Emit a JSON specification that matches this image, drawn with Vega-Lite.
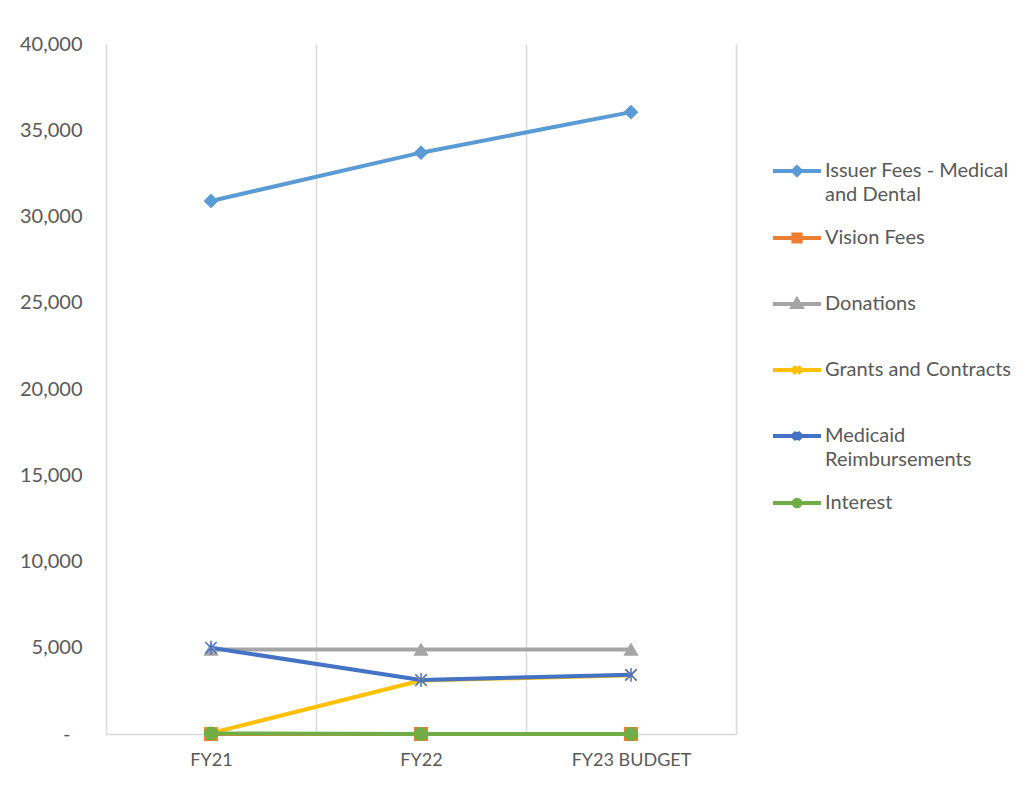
{
  "$schema": "https://vega.github.io/schema/vega-lite/v6.json",
  "width": 630,
  "height": 690,
  "autosize": {"type": "none"},
  "padding": {"left": 106, "top": 44, "right": 287, "bottom": 60},
  "background": "white",
  "config": {
    "view": {"stroke": null},
    "font": "Lato",
    "style": {"guide-label": {"lineHeight": 24}}
  },
  "data": {
    "values": [
      {"series": "Issuer Fees - Medical and Dental", "year": "FY21", "value": 30900},
      {"series": "Issuer Fees - Medical and Dental", "year": "FY22", "value": 33700},
      {"series": "Issuer Fees - Medical and Dental", "year": "FY23 BUDGET", "value": 36050},
      {"series": "Vision Fees", "year": "FY21", "value": 0},
      {"series": "Vision Fees", "year": "FY22", "value": 0},
      {"series": "Vision Fees", "year": "FY23 BUDGET", "value": 0},
      {"series": "Donations", "year": "FY21", "value": 4900},
      {"series": "Donations", "year": "FY22", "value": 4900},
      {"series": "Donations", "year": "FY23 BUDGET", "value": 4900},
      {"series": "Grants and Contracts", "year": "FY21", "value": 50},
      {"series": "Grants and Contracts", "year": "FY22", "value": 3100},
      {"series": "Grants and Contracts", "year": "FY23 BUDGET", "value": 3400},
      {"series": "Medicaid Reimbursements", "year": "FY21", "value": 5000},
      {"series": "Medicaid Reimbursements", "year": "FY22", "value": 3130},
      {"series": "Medicaid Reimbursements", "year": "FY23 BUDGET", "value": 3430},
      {"series": "Interest", "year": "FY21", "value": 30},
      {"series": "Interest", "year": "FY22", "value": 0},
      {"series": "Interest", "year": "FY23 BUDGET", "value": 0}
    ]
  },
  "encoding": {
    "x": {
      "field": "year",
      "type": "nominal",
      "bandPosition": 0.5,
      "scale": {"type": "band", "domain": ["FY21", "FY22", "FY23 BUDGET"], "paddingInner": 0, "paddingOuter": 0},
      "axis": {
        "title": null,
        "domain": true,
        "domainColor": "#d9d9d9",
        "domainWidth": 1.5,
        "ticks": false,
        "grid": true,
        "gridColor": "#d9d9d9",
        "gridWidth": 1.5,
        "tickBand": "extent",
        "labelAngle": 0,
        "labelFont": "Lato",
        "labelFontSize": 18,
        "labelColor": "#595959",
        "labelPadding": 17
      }
    },
    "y": {
      "field": "value",
      "type": "quantitative",
      "scale": {"domain": [0, 40000], "nice": false},
      "axis": {
        "title": null,
        "domain": false,
        "ticks": false,
        "grid": false,
        "values": [0, 5000, 10000, 15000, 20000, 25000, 30000, 35000, 40000],
        "labelExpr": "datum.value === 0 ? '-' : format(datum.value, ',')",
        "labelFont": "Lato",
        "labelFontSize": 20,
        "labelColor": "#595959",
        "labelPadding": {"condition": {"test": "datum.value === 0", "value": 36}, "value": 24}
      }
    }
  },
  "layer": [
    {
      "mark": {"type": "line", "strokeWidth": 4, "strokeJoin": "round", "strokeCap": "round"},
      "encoding": {
        "stroke": {
          "field": "series",
          "type": "nominal",
          "scale": {
            "domain": ["Issuer Fees - Medical and Dental", "Vision Fees", "Donations", "Grants and Contracts", "Medicaid Reimbursements", "Interest"],
            "range": ["#5B9BD5", "#ED7D31", "#A5A5A5", "#FFC000", "#4472C4", "#70AD47"]
          },
          "legend": null
        }
      }
    },
    {
      "mark": {"type": "point", "filled": true, "size": 160, "strokeWidth": 1.5, "opacity": 1},
      "encoding": {
        "fill": {
          "field": "series",
          "type": "nominal",
          "scale": {
            "domain": ["Issuer Fees - Medical and Dental", "Vision Fees", "Donations", "Grants and Contracts", "Medicaid Reimbursements", "Interest"],
            "range": ["#5B9BD5", "#ED7D31", "#A5A5A5", "#FFC000", "#4472C4", "#70AD47"]
          },
          "legend": null
        },
        "stroke": {
          "field": "series",
          "type": "nominal",
          "scale": {
            "domain": ["Issuer Fees - Medical and Dental", "Vision Fees", "Donations", "Grants and Contracts", "Medicaid Reimbursements", "Interest"],
            "range": ["#5B9BD5", "#ED7D31", "#A5A5A5", "#FFC000", "#4472C4", "#70AD47"]
          },
          "legend": null
        },
        "shape": {
          "field": "series",
          "type": "nominal",
          "scale": {
            "domain": ["Issuer Fees - Medical and Dental", "Vision Fees", "Donations", "Grants and Contracts", "Medicaid Reimbursements", "Interest"],
            "range": ["diamond", "square", "triangle-up", "M-0.9,-0.9L0.9,0.9M-0.9,0.9L0.9,-0.9", "M-0.9,-0.9L0.9,0.9M-0.9,0.9L0.9,-0.9M0,-1.1L0,1.1", "circle"]
          },
          "legend": null
        }
      }
    },
    {
      "mark": {"type": "point", "filled": true, "opacity": 0},
      "encoding": {
        "fill": {
          "field": "series",
          "type": "nominal",
          "scale": {
            "domain": ["Issuer Fees - Medical and Dental", "Vision Fees", "Donations", "Grants and Contracts", "Medicaid Reimbursements", "Interest"],
            "range": ["#5B9BD5", "#ED7D31", "#A5A5A5", "#FFC000", "#4472C4", "#70AD47"]
          }
        },
        "stroke": {
          "field": "series",
          "type": "nominal",
          "scale": {
            "domain": ["Issuer Fees - Medical and Dental", "Vision Fees", "Donations", "Grants and Contracts", "Medicaid Reimbursements", "Interest"],
            "range": ["#5B9BD5", "#ED7D31", "#A5A5A5", "#FFC000", "#4472C4", "#70AD47"]
          }
        },
        "shape": {
          "field": "series",
          "type": "nominal",
          "scale": {
            "domain": ["Issuer Fees - Medical and Dental", "Vision Fees", "Donations", "Grants and Contracts", "Medicaid Reimbursements", "Interest"],
            "range": [
              "M-1,0L1,0M0,-0.16L0.16,0L0,0.16L-0.16,0Z",
              "M-1,0L1,0M-0.15,-0.15L0.15,-0.15L0.15,0.15L-0.15,0.15Z",
              "M-1,0L1,0M0,-0.18L0.18,0.12L-0.18,0.12Z",
              "M-1,0L1,0M-0.15,-0.15L0.15,0.15M-0.15,0.15L0.15,-0.15",
              "M-1,0L1,0M-0.15,-0.15L0.15,0.15M-0.15,0.15L0.15,-0.15M0,-0.18L0,0.18",
              "M-1,0L1,0M-0.14,0A0.14,0.14,0,1,1,0.14,0A0.14,0.14,0,1,1,-0.14,0Z"
            ]
          },
          "legend": {
            "title": null,
            "orient": "none",
            "legendX": 665,
            "legendY": 94,
            "padding": 0,
            "symbolSize": 2304,
            "symbolStrokeWidth": 4,
            "symbolOpacity": 1,
            "clipHeight": 66,
            "rowPadding": 0,
            "labelOffset": 2,
            "labelFont": "Lato",
            "labelFontSize": 20,
            "labelColor": "#595959",
            "labelLimit": 300,
            "labelExpr": "datum.label === 'Issuer Fees - Medical and Dental' ? ['Issuer Fees - Medical', 'and Dental'] : datum.label === 'Medicaid Reimbursements' ? ['Medicaid', 'Reimbursements'] : datum.label"
          }
        }
      }
    }
  ],
  "resolve": {"scale": {"shape": "independent", "fill": "independent", "stroke": "independent"}}
}
